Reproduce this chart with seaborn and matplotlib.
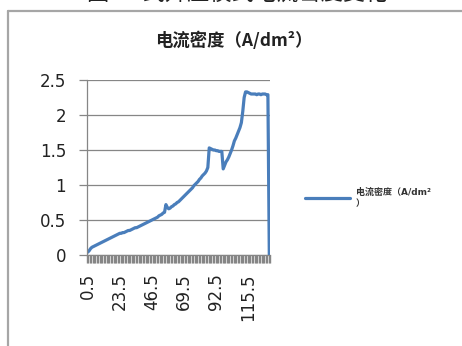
import numpy as np
import pandas as pd
import matplotlib
matplotlib.use("Agg")
import matplotlib.pyplot as plt
import seaborn as sns
from matplotlib.lines import Line2D

# -----------------------------------------------------------------------------
# Data
# -----------------------------------------------------------------------------

caption = "图7 U式升压模式电流密度变化"
title = "电流密度（A/dm²）"
series_name = "电流密度（A/dm²\n）"

# categories 0.5, 1.5, ... 130.5
categories = [i + 0.5 for i in range(131)]

current_density = [
    0.04, 0.06, 0.09, 0.11, 0.12, 0.13, 0.14, 0.15, 0.16, 0.17,
    0.18, 0.19, 0.20, 0.21, 0.22, 0.23, 0.24, 0.25, 0.26, 0.27, 0.28, 0.29, 0.30, 0.31,
    0.31, 0.32, 0.32, 0.33, 0.34, 0.35, 0.35, 0.36, 0.37, 0.38, 0.39, 0.39, 0.40, 0.41, 0.42,
    0.43, 0.44, 0.45, 0.46, 0.47, 0.48, 0.49, 0.50, 0.51, 0.52,
    0.53, 0.54, 0.56, 0.57, 0.58, 0.60, 0.61,
    0.72, 0.68, 0.66,
    0.67, 0.69, 0.70, 0.72, 0.73, 0.75, 0.76, 0.78, 0.80,
    0.82, 0.84, 0.86, 0.88, 0.90, 0.92, 0.94, 0.96, 0.99,
    1.01, 1.03, 1.05, 1.08, 1.10, 1.13, 1.15, 1.17, 1.20, 1.25,
    1.53,
    1.52, 1.51, 1.50, 1.50, 1.49, 1.49, 1.48, 1.48, 1.48,
    1.23,
    1.28, 1.33, 1.36, 1.40, 1.45, 1.50, 1.56, 1.63,
    1.67, 1.72, 1.77, 1.82, 1.89,
    2.05, 2.25, 2.33, 2.33,
    2.32, 2.31, 2.30, 2.30, 2.30, 2.30, 2.29, 2.30, 2.30, 2.29, 2.30, 2.30, 2.30, 2.29, 2.29,
    0.0,
]

tick_labels = ["0.5", "23.5", "46.5", "69.5", "92.5", "115.5"]
y_ticks = [0, 0.5, 1, 1.5, 2, 2.5]

df = pd.DataFrame({"category": categories, "value": current_density})

# -----------------------------------------------------------------------------
# Plot
# -----------------------------------------------------------------------------

sns.set_theme(style="white")
plt.rcParams["font.family"] = ["DejaVu Sans", "Noto Sans CJK SC"]

grey = "#868686"
blue = "#4A7EBB"

fig = plt.figure(figsize=(4.62, 3.46), dpi=100)
ax = fig.add_axes([87 / 462, 1 - 255 / 346, 183 / 462, 175 / 346])

sns.lineplot(x="category", y="value", data=df, ax=ax, color=blue, lw=2.3,
             errorbar=None, label=series_name)

ax.set_xlim(0, len(categories))
ax.set_ylim(0, 2.5)
ax.set(xlabel=None, ylabel=None)

ax.set_yticks(y_ticks)
ax.set_yticklabels(["0", "0.5", "1", "1.5", "2", "2.5"])
ax.yaxis.grid(True, color=grey, lw=0.9)
ax.xaxis.grid(False)

ax.set_xticks([float(t) for t in tick_labels])
ax.set_xticklabels(tick_labels, rotation=90)
ax.set_xticks(np.arange(0, len(categories) + 1), minor=True)

ax.tick_params(axis="y", which="major", direction="out", length=6, width=0.9,
               color=grey, labelsize=12, pad=9, left=True, labelcolor="#222222")
ax.tick_params(axis="x", which="major", length=0, labelsize=12, pad=13,
               labelcolor="#222222", bottom=True)
ax.tick_params(axis="x", which="minor", direction="out", length=6, width=1.0,
               color=grey, bottom=True)

for s in ["top", "right"]:
    ax.spines[s].set_visible(False)
for s in ["left", "bottom"]:
    ax.spines[s].set_color(grey)
    ax.spines[s].set_linewidth(0.9)

# legend on the right
leg = ax.legend(loc="center left", bbox_to_anchor=(305 / 462, 1 - 198 / 346),
                bbox_transform=fig.transFigure, frameon=False, borderpad=0,
                borderaxespad=0, handlelength=5.0, handletextpad=0.6,
                prop={"size": 6.5, "weight": "bold",
                      "family": ["DejaVu Sans", "Noto Sans CJK SC"]})
for t in leg.get_texts():
    t.set_color("#333333")

# chart title
fig.text(234 / 462, 1 - 41 / 346, title, ha="center", va="center", fontsize=12.5,
         fontweight="bold", color="#222222",
         family=["Noto Sans CJK SC", "DejaVu Sans"])

# caption of the page, cut off at the top
fig.text(237 / 462, 1 - 6 / 346, caption, ha="center", va="bottom", fontsize=16,
         color="#222222", family=["Noto Sans CJK SC", "DejaVu Sans"])

# chart area border (left and top edges)
fig.add_artist(Line2D([8 / 462, 8 / 462], [0, 1 - 11 / 346],
                      transform=fig.transFigure, color="#a6a6a6", lw=1.6))
fig.add_artist(Line2D([8 / 462, 1], [1 - 11 / 346, 1 - 11 / 346],
                      transform=fig.transFigure, color="#a6a6a6", lw=1.6))

plt.savefig("out.png", dpi=100, facecolor="white")
